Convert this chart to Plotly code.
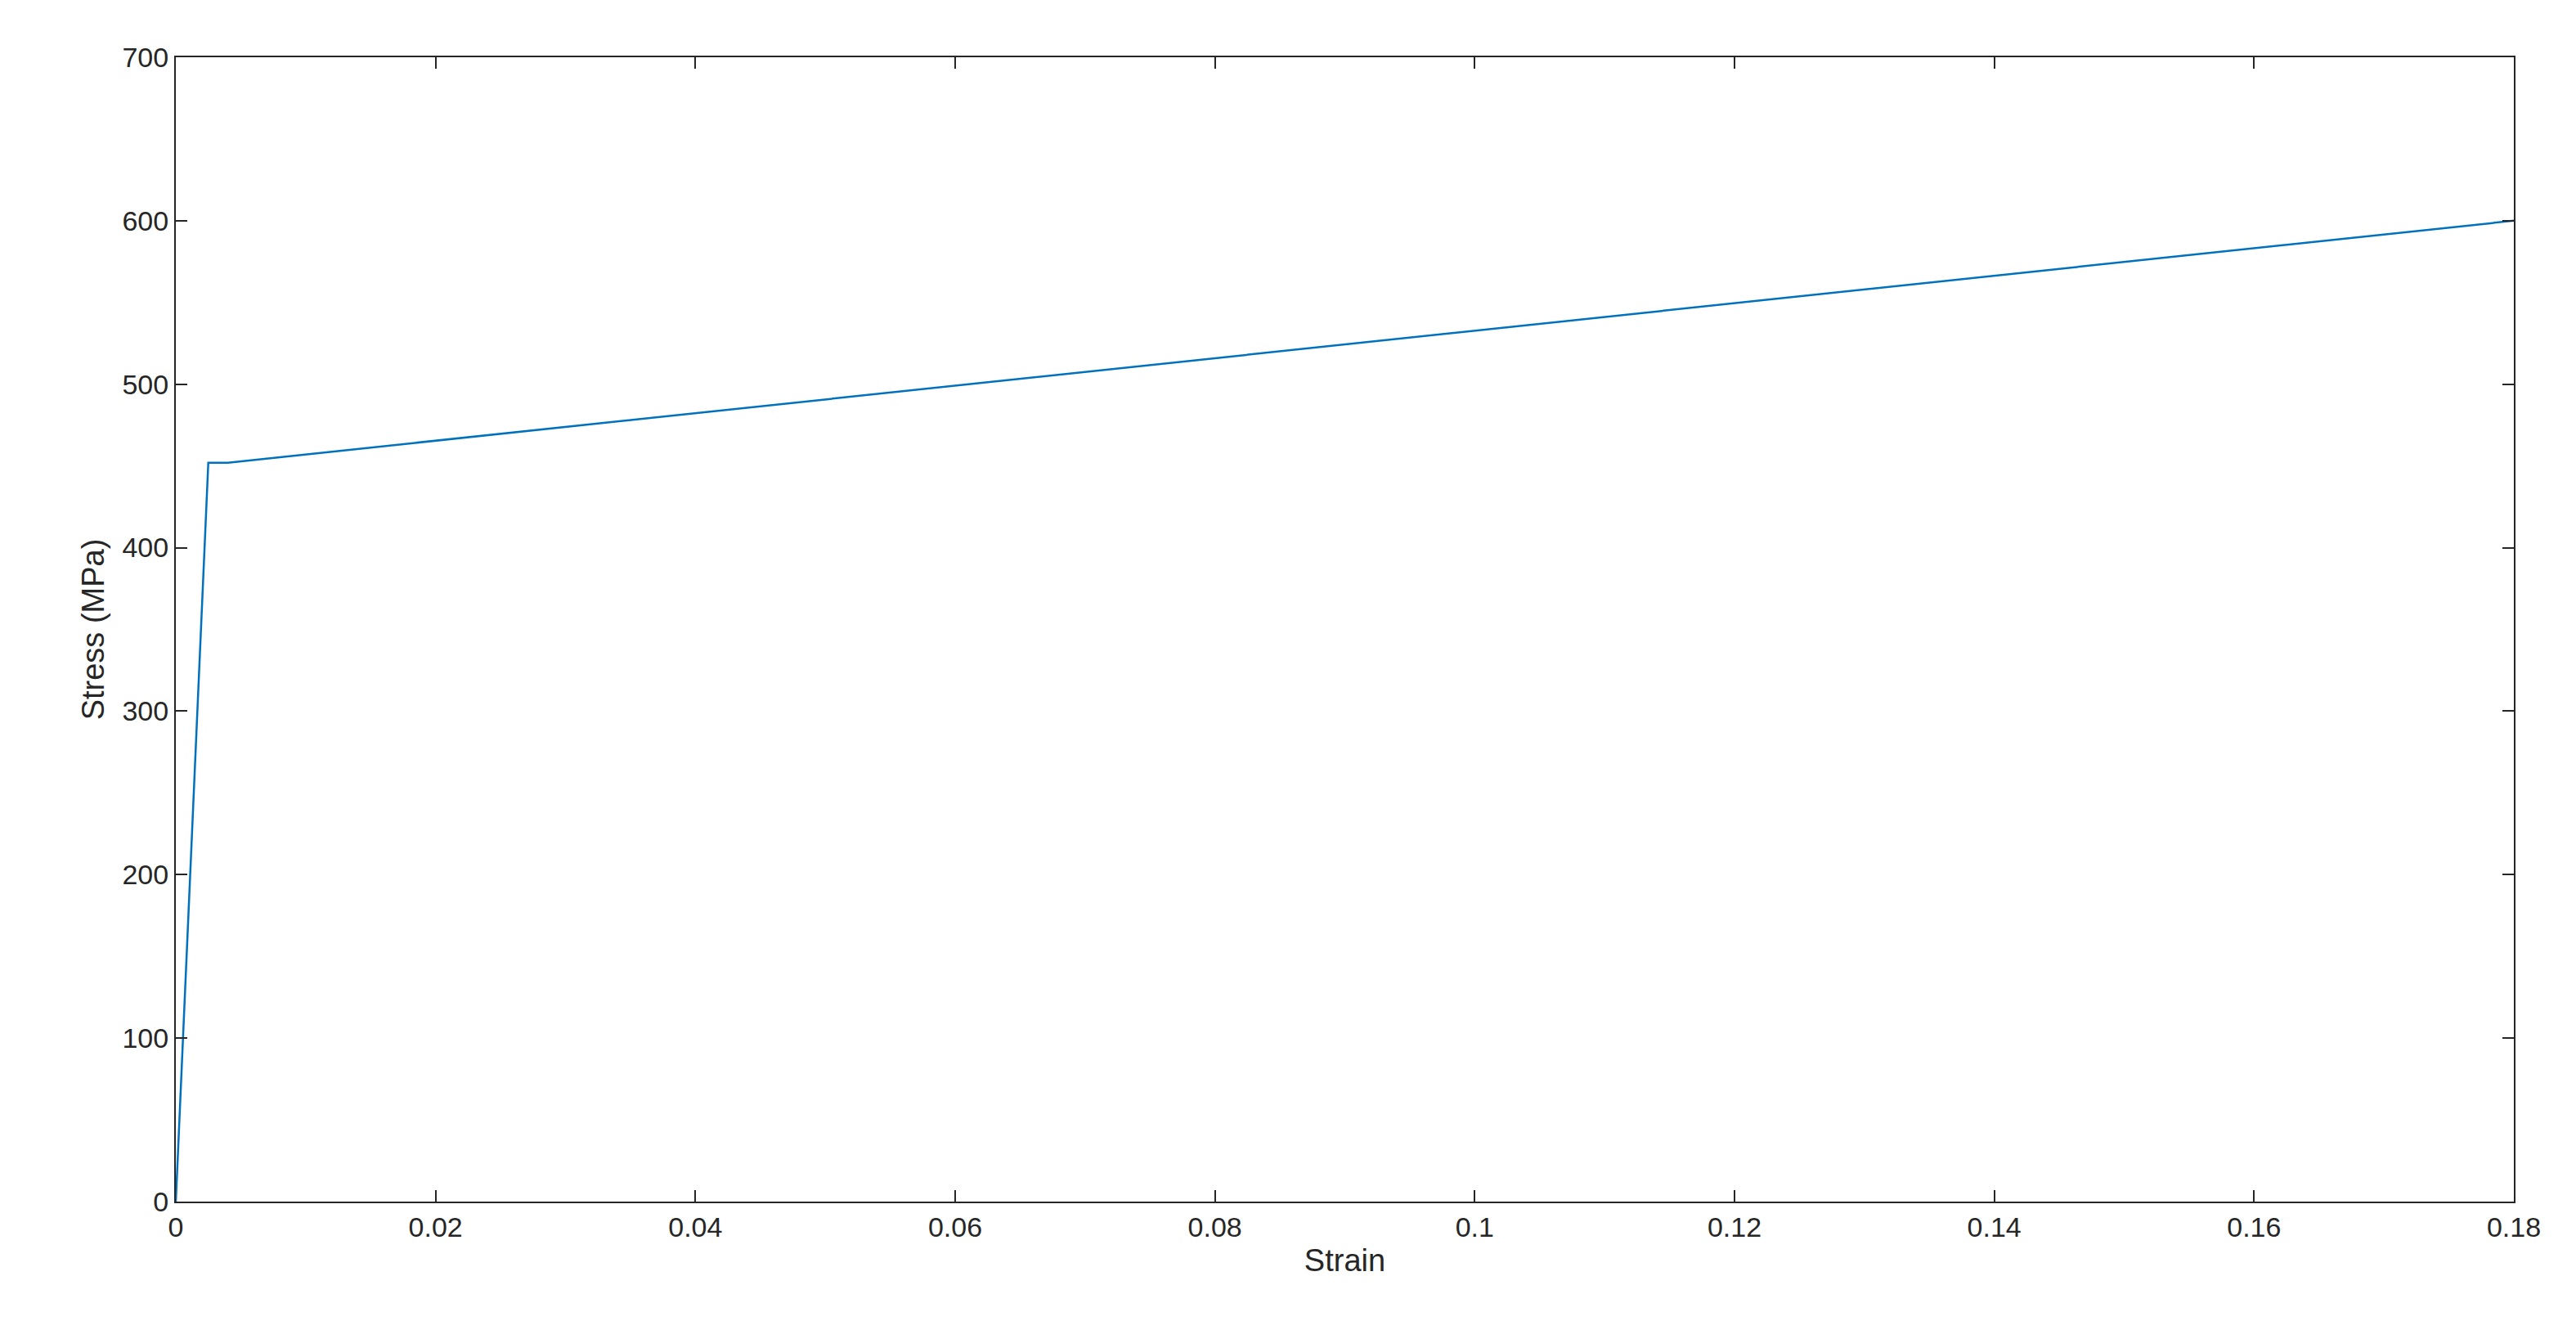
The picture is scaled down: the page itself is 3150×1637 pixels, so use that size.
import plotly.graph_objects as go

strain = [0, 0.0025, 0.004, 0.18]
stress = [0, 452, 452, 600]

fig = go.Figure(go.Scatter(x=strain, y=stress, mode="lines",
                           line=dict(color="#0072BD", width=2.5)))
ax = dict(showline=True, linecolor="#262626", linewidth=2, mirror="ticks",
          ticks="inside", ticklen=14, tickwidth=2, tickcolor="#262626",
          showgrid=False, zeroline=False,
          tickfont=dict(size=34, color="#262626"),
          title_font=dict(size=38, color="#262626"))
fig.update_xaxes(ax, range=[0, 0.18], dtick=0.02, title_text="Strain",
                 tickvals=[0,0.02,0.04,0.06,0.08,0.1,0.12,0.14,0.16,0.18],
                 ticktext=["0","0.02","0.04","0.06","0.08","0.1","0.12","0.14","0.16","0.18"],
                 title_standoff=10)
fig.update_yaxes(ax, range=[0, 700], dtick=100, title_text="Stress (MPa)", title_standoff=10)
fig.update_layout(width=3150, height=1637, plot_bgcolor="white", paper_bgcolor="white",
                  font=dict(family="Liberation Sans, Arial"),
                  margin=dict(l=207, r=84, t=62, b=176), showlegend=False)
fig.write_html("out.html")
